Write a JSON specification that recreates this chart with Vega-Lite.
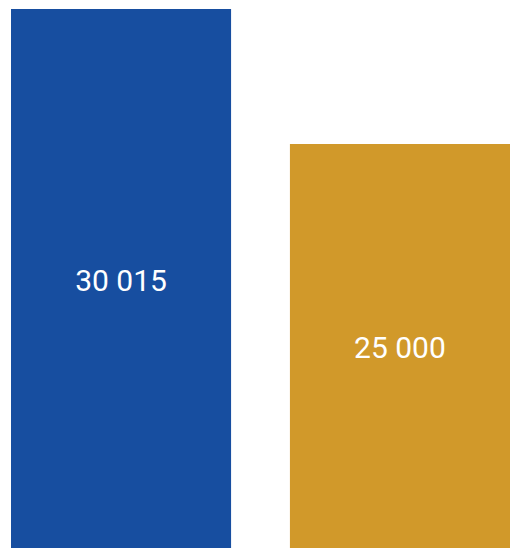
{
  "$schema": "https://vega.github.io/schema/vega-lite/v6.json",
  "autosize": {"type": "fit", "contains": "padding"},
  "width": 510,
  "height": 548,
  "padding": {"top": 9, "left": 10, "right": 0, "bottom": 0},
  "background": "white",
  "config": {"view": {"stroke": null}},
  "data": {"values": [
    {"category": "A", "value": 30015, "label": "30 015", "color": "#174EA0"},
    {"category": "B", "value": 25000, "label": "25 000", "color": "#D1992A"}
  ]},
  "transform": [{"calculate": "(datum.value + 10000) / 2", "as": "mid"}],
  "encoding": {
    "x": {"field": "category", "type": "nominal", "axis": null, "scale": {"paddingInner": 0.211, "paddingOuter": 0}}
  },
  "layer": [
    {
      "mark": {"type": "bar"},
      "encoding": {
        "y": {"field": "value", "type": "quantitative", "axis": null, "scale": {"domain": [10000, 30015], "zero": false, "nice": false}},
        "y2": {"datum": 10000},
        "color": {"field": "color", "type": "nominal", "scale": null, "legend": null}
      }
    },
    {
      "mark": {"type": "text", "font": "Roboto", "fontSize": 30, "color": "white", "baseline": "middle", "align": "center", "dy": 3},
      "encoding": {
        "y": {"field": "mid", "type": "quantitative"},
        "text": {"field": "label", "type": "nominal"}
      }
    }
  ]
}
